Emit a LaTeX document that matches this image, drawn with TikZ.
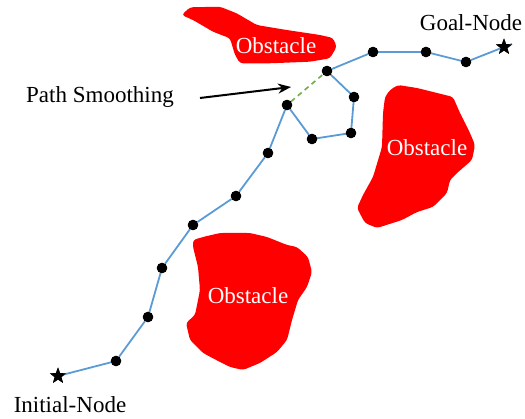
\documentclass[tikz,border=0pt]{standalone}
\usepackage{fontspec}
\setmainfont{Liberation Serif}
\newfontfamily\figfont{Liberation Serif}
\usetikzlibrary{shapes.geometric,arrows.meta}
\definecolor{obsred}{RGB}{255,0,0}
\definecolor{pathblue}{RGB}{91,155,213}
\definecolor{smoothgreen}{RGB}{112,173,71}
\tikzset{
  obst/.style={fill=obsred, draw=none, rounded corners=3pt},
  obstlabel/.style={text=white, font=\figfont\fontsize{23}{27}\selectfont, inner sep=0},
  lbl/.style={text=black, font=\figfont\fontsize{23}{27}\selectfont, inner sep=0},
  wp/.style={circle, fill=black, minimum size=10pt, inner sep=0},
  endpt/.style={star, star points=5, star point ratio=2.4, fill=black, minimum size=17pt, inner sep=0},
  pathline/.style={pathblue, line width=1.8pt},
  smooth line/.style={smoothgreen, line width=1.6pt, dash pattern=on 5pt off 4pt},
}
\begin{document}
\begin{tikzpicture}[x=1pt,y=-1pt]
\useasboundingbox (0,0) rectangle (525,419);
% obstacles
\fill[obst] (181.7,15) -- (190,7.3) -- (220,6.7) -- (236.7,13.3) -- (256.7,25) -- (286.7,30) -- (320,35) -- (333,38) -- (336.7,46.7) -- (330,58.3) -- (310,61.7) -- (270,63.3) -- (240,63.3) -- (235,55) -- (230,38.3) -- (213,31.7) -- (193,20) -- cycle;
\fill[obst] (390,90) -- (398,85) -- (417,88) -- (437,93) -- (453,97) -- (460,113) -- (470,133) -- (475,145) -- (472,160) -- (457,173) -- (450,180) -- (447,193) -- (433,207) -- (417,212) -- (402,220) -- (377,228) -- (365,223) -- (357,208) -- (363,195) -- (373,177) -- (382,147) -- (383,113) -- (385,97) -- cycle;
\fill[obst] (193,240) -- (203,237) -- (220,233) -- (250,233) -- (267,237) -- (287,245) -- (297,247) -- (308,257) -- (312,272) -- (307,287) -- (298,300) -- (292,320) -- (287,340) -- (277,352) -- (260,363) -- (243,370) -- (230,367) -- (220,362) -- (203,353) -- (190,340) -- (186,323) -- (195,315) -- (200,290) -- (198,267) -- (193,247) -- cycle;
\node[obstlabel] (o1) at (276,46) {Obstacle};
\node[obstlabel] (o2) at (427,148) {Obstacle};
\node[obstlabel] (o3) at (248,296) {Obstacle};
% waypoints
\node[endpt] (start) at (58,376) {};
\node[wp] (p1) at (116,361) {};
\node[wp] (p2) at (148,317) {};
\node[wp] (p3) at (162,268) {};
\node[wp] (p4) at (193,225) {};
\node[wp] (p5) at (236,196) {};
\node[wp] (p6) at (268,153) {};
\node[wp] (p7) at (287,105) {};
\node[wp] (p8) at (312,139) {};
\node[wp] (p9) at (351,133) {};
\node[wp] (p10) at (354,97) {};
\node[wp] (p11) at (327,71) {};
\node[wp] (p12) at (373,52) {};
\node[wp] (p13) at (426,52) {};
\node[wp] (p14) at (466,62) {};
\node[endpt] (goal) at (504,47) {};
\coordinate (gend) at (512,44);
% path
\draw[pathline] (start.center) -- (p1) -- (p2) -- (p3) -- (p4) -- (p5) -- (p6) -- (p7) -- (p8) -- (p9) -- (p10) -- (p11) -- (p12) -- (p13) -- (p14) -- (goal.center) -- (gend);
\draw[smooth line] (p7) -- (p11);
% re-draw nodes on top
\foreach \n in {p1,p2,p3,p4,p5,p6,p7,p8,p9,p10,p11,p12,p13,p14} {\fill (\n) circle (5.3pt);}
\node[endpt] at (start) {};
\node[endpt] at (goal) {};
% labels
\node[lbl] (gl) at (471,23) {Goal-Node};
\node[lbl] (il) at (70,405) {Initial-Node};
\node[lbl] (ps) at (100,97) {Path Smoothing};
\coordinate (arrS) at (200,98);
\coordinate (arrE) at (291,87);
\draw[line width=2pt, -{Stealth[length=13pt,width=10pt]}] (arrS) -- (arrE);
\end{tikzpicture}
\end{document}
